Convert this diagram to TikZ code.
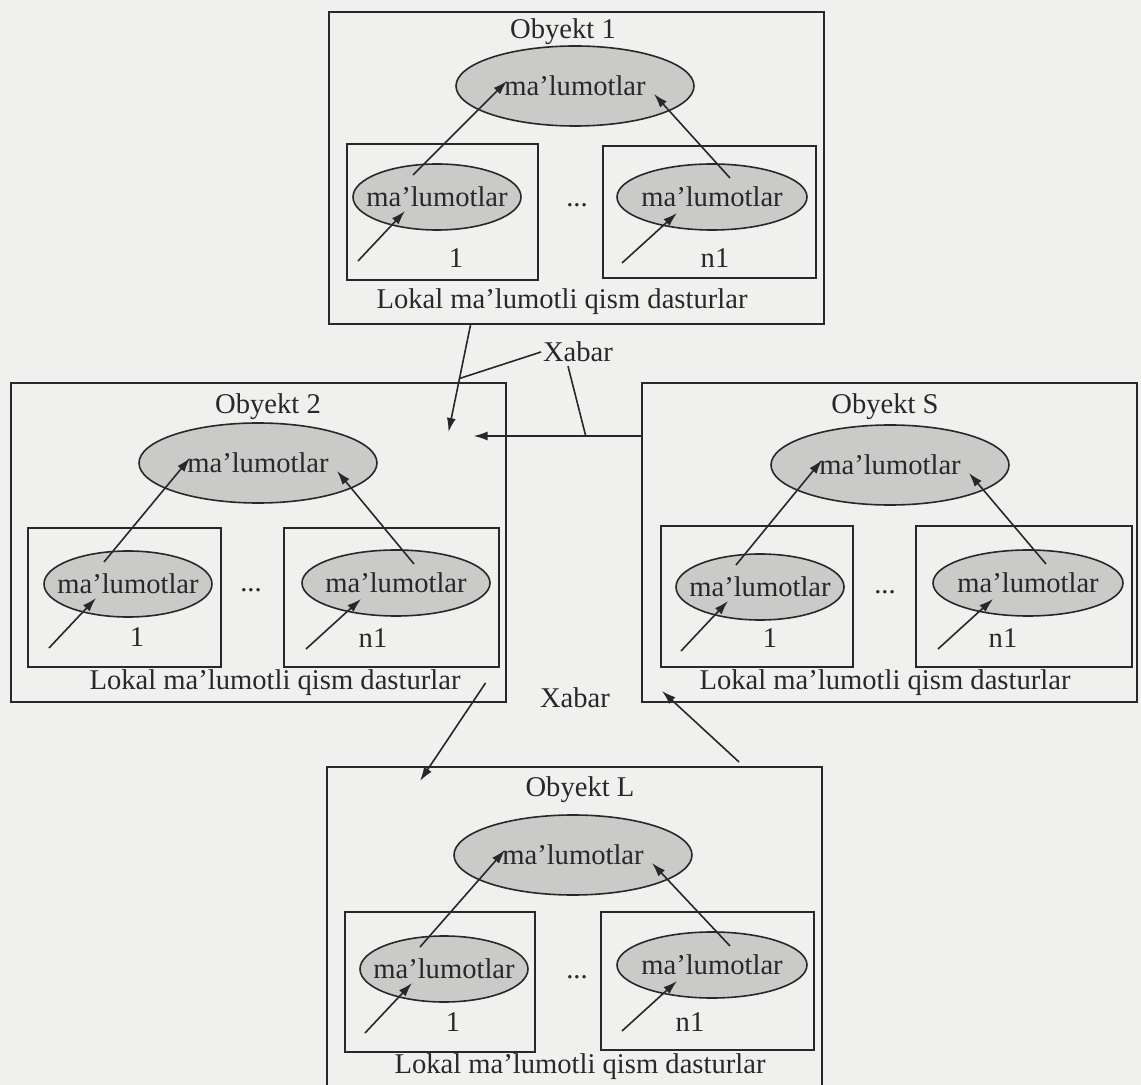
\documentclass[tikz,border=0pt]{standalone}
\usepackage{fontspec}
\setmainfont{Liberation Serif}
\usetikzlibrary{shapes.geometric, arrows.meta, calc}
\definecolor{paper}{RGB}{240,240,238}
\definecolor{ink}{RGB}{40,40,40}
\definecolor{shade}{RGB}{202,202,200}
\tikzstyle{obyekt} = [rectangle, draw=ink, line width=1pt, minimum width=247.5pt, minimum height=159.5pt, inner sep=0pt]
\tikzstyle{qism} = [rectangle, draw=ink, line width=0.9pt, minimum height=70pt, inner sep=0pt]
\tikzstyle{katta} = [ellipse, draw=ink, fill=shade, line width=0.8pt, inner xsep=-10pt, inner ysep=0pt, minimum width=119pt, minimum height=40pt]
\tikzstyle{kichik} = [katta, minimum width=84pt, minimum height=33pt]
\tikzstyle{arrow} = [draw=ink, line width=0.8pt, -{Latex[length=7pt,width=4.5pt]}]
\tikzstyle{xline} = [draw=ink, line width=0.8pt]

\begin{document}
\begin{tikzpicture}[x=0.5pt, y=-0.5pt, font=\fontsize{14.3}{16}\selectfont, text=ink]

\path [use as bounding box, fill=paper] (0,0) rectangle (1141,1085);
\clip (0,0) rectangle (1141,1085);

% Obyekt 1
\node (o1) [obyekt, minimum height=156pt] at (576.5,168) {};
\node (o1title) at (563,32) {Obyekt 1};
\node (o1data) [katta] at (575,86) {ma'lumotlar};
\node (o1q1) [qism, minimum width=95.5pt, minimum height=68pt] at (442.5,212) {};
\node (o1qn) [qism, minimum width=106.5pt, minimum height=66pt] at (709.5,212) {};
\node (o1d1) [kichik] at (437,197) {ma'lumotlar};
\node (o1dn) [kichik, minimum width=95pt] at (712,197) {ma'lumotlar};
\node (o1dots) at (577,205) {...};
\node (o1n1) at (456,258) {1};
\node (o1nn) at (715,258) {n1};
\node (o1lokal) at (562,302) {Lokal ma'lumotli qism dasturlar};

\draw [arrow] ($(o1d1)+(-79,64)$) -- ($(o1d1)+(-32,14)$);
\draw [arrow] ($(o1d1)+(-24,-22)$) -- ($(o1data)+(-68,-5)$);
\draw [arrow] ($(o1dn)+(-90,66)$) -- ($(o1dn)+(-35,16)$);
\draw [arrow] ($(o1dn)+(18,-19)$) -- ($(o1data)+(79,8)$);

% Obyekt 2
\node (o2) [obyekt] at (258,542.5) {};
\node (o2title) at (268,407) {Obyekt 2};
\node (o2data) [katta] at (258,463) {ma'lumotlar};
\node (o2q1) [qism, minimum width=96.5pt, minimum height=69.5pt] at (124.5,597.5) {};
\node (o2qn) [qism, minimum width=107.5pt, minimum height=69.5pt] at (391.5,597.5) {};
\node (o2d1) [kichik] at (128,584) {ma'lumotlar};
\node (o2dn) [kichik, minimum width=94pt] at (396,583) {ma'lumotlar};
\node (o2dots) at (251,590) {...};
\node (o2n1) at (137,637) {1};
\node (o2nn) at (373,638) {n1};
\node (o2lokal) at (275,683) {Lokal ma'lumotli qism dasturlar};

\draw [arrow] ($(o2d1)+(-79,64)$) -- ($(o2d1)+(-32,14)$);
\draw [arrow] ($(o2d1)+(-24,-22)$) -- ($(o2data)+(-68,-5)$);
\draw [arrow] ($(o2dn)+(-90,66)$) -- ($(o2dn)+(-35,16)$);
\draw [arrow] ($(o2dn)+(18,-19)$) -- ($(o2data)+(79,8)$);

% Obyekt S
\node (oS) [obyekt] at (889.5,542.5) {};
\node (oStitle) at (885,407) {Obyekt S};
\node (oSdata) [katta] at (890,465) {ma'lumotlar};
\node (oSq1) [qism, minimum width=96pt, minimum height=70.5pt] at (757,596.5) {};
\node (oSqn) [qism, minimum width=108pt, minimum height=70.5pt] at (1024,596.5) {};
\node (oSd1) [kichik] at (760,587) {ma'lumotlar};
\node (oSdn) [kichik, minimum width=95pt] at (1028,583) {ma'lumotlar};
\node (oSdots) at (885,592) {...};
\node (oSn1) at (770,638) {1};
\node (oSnn) at (1003,638) {n1};
\node (oSlokal) at (885,683) {Lokal ma'lumotli qism dasturlar};

\draw [arrow] ($(oSd1)+(-79,64)$) -- ($(oSd1)+(-32,14)$);
\draw [arrow] ($(oSd1)+(-24,-22)$) -- ($(oSdata)+(-68,-5)$);
\draw [arrow] ($(oSdn)+(-90,66)$) -- ($(oSdn)+(-35,16)$);
\draw [arrow] ($(oSdn)+(18,-19)$) -- ($(oSdata)+(79,8)$);

% Obyekt L
\node (oL) [obyekt, minimum height=160.5pt] at (574.5,927.5) {};
\node (oLtitle) at (580,790) {Obyekt L};
\node (oLdata) [katta] at (573,855) {ma'lumotlar};
\node (oLq1) [qism, minimum width=95pt, minimum height=70pt] at (440,982) {};
\node (oLqn) [qism, minimum width=106.5pt, minimum height=69pt] at (707.5,981) {};
\node (oLd1) [kichik] at (444,969) {ma'lumotlar};
\node (oLdn) [kichik, minimum width=95pt] at (712,965) {ma'lumotlar};
\node (oLdots) at (577,977) {...};
\node (oLn1) at (453,1022) {1};
\node (oLnn) at (690,1022) {n1};
\node (oLlokal) at (580,1067) {Lokal ma'lumotli qism dasturlar};

\draw [arrow] ($(oLd1)+(-79,64)$) -- ($(oLd1)+(-32,14)$);
\draw [arrow] ($(oLd1)+(-24,-22)$) -- ($(oLdata)+(-68,-5)$);
\draw [arrow] ($(oLdn)+(-90,66)$) -- ($(oLdn)+(-35,16)$);
\draw [arrow] ($(oLdn)+(18,-19)$) -- ($(oLdata)+(79,8)$);

% Xabar
\node (xabar1) at (578,352) {Xabar};
\node (xabar2) at (575,698) {Xabar};

\draw [arrow] ($(o1.south)+(-106,0)$) -- coordinate[pos=0.5] (m1) ($(o2.north east)+(-58,50)$);
\draw [arrow] ($(oS.north west)+(0,54)$) -- coordinate[pos=0.33] (m2) ($(o2.north east)+(-33,54)$);
\draw [xline] ($(xabar1.west)+(5,0)$) -- (m1);
\draw [xline] ($(xabar1.south)+(-10,-3)$) -- (m2);

\draw [arrow] ($(o2.south east)+(-21,-20)$) -- ($(oL.north west)+(94,15)$);
\draw [arrow] ($(oL.north east)+(-84,-4)$) -- ($(oS.south west)+(21,-12)$);

\end{tikzpicture}
\end{document}
